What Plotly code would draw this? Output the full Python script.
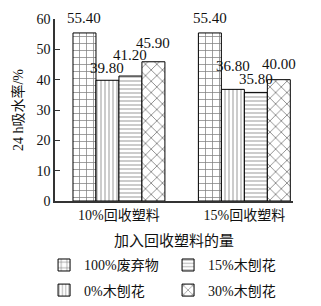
import plotly.graph_objects as go

categories = ["10%回收塑料", "15%回收塑料"]
series_names = ["100%废弃物", "0%木刨花", "15%木刨花", "30%木刨花"]
values_100 = [55.40, 55.40]
values_0 = [39.80, 36.80]
values_15 = [41.20, 35.80]
values_30 = [45.90, 40.00]
y_ticks = [0, 10, 20, 30, 40, 50, 60]

all_values = [values_100, values_0, values_15, values_30]
patterns = ["+", "|", "-", "x"]
pattern_sizes = [7, 4, 4, 8]
legend_ids = ["legend", "legend3", "legend2", "legend4"]
# vertical offset (px) of each value label above its bar, per series per group
label_shifts = [[15, 15], [12, 23], [21, 13], [19, 16]]

FONT = "Liberation Serif, Noto Sans CJK SC"
BARGAP = 0.267

fig = go.Figure()
xpos = list(range(len(categories)))
for name, vals, shp, psz, lg in zip(series_names, all_values, patterns, pattern_sizes, legend_ids):
    fig.add_trace(go.Bar(
        x=xpos, y=vals, name=name,
        marker=dict(color="white",
                    line=dict(color="black", width=1),
                    pattern=dict(shape=shp, size=psz, solidity=0.2,
                                 fgcolor="black", bgcolor="white")),
        legend=lg,
    ))

# value labels, placed at each bar's slot in the group
n = len(all_values)
bw = (1 - BARGAP) / n
for i, (vals, shifts) in enumerate(zip(all_values, label_shifts)):
    for g, (v, s) in enumerate(zip(vals, shifts)):
        fig.add_annotation(
            x=xpos[g] + (i - (n - 1) / 2) * bw, y=v,
            xref="x", yref="y", text=f"{v:.2f}", showarrow=False,
            yanchor="middle", xanchor="center", yshift=s,
            font=dict(family=FONT, size=15, color="#111"),
        )

def leg(x, y):
    return dict(orientation="h", xref="paper", x=x, xanchor="left",
                yref="container", y=y, yanchor="top",
                font=dict(family=FONT, size=14, color="#111"),
                bgcolor="rgba(0,0,0,0)")

fig.update_layout(
    width=321, height=306,
    margin=dict(l=55, r=28, t=16, b=105),
    paper_bgcolor="white", plot_bgcolor="white",
    barmode="group", bargap=BARGAP, bargroupgap=0,
    font=dict(family=FONT, size=14, color="#111"),
    showlegend=True,
    legend=leg(-0.046, 0.185),
    legend2=leg(0.475, 0.185),
    legend3=leg(-0.046, 0.103),
    legend4=leg(0.475, 0.103),
)
fig.update_xaxes(
    tickmode="array", tickvals=xpos, ticktext=categories,
    range=[-0.51, 1.388], automargin=False,
    showline=True, linecolor="#333", linewidth=1.5,
    ticks="", showgrid=False, zeroline=False,
    tickfont=dict(family=FONT, size=14, color="#111"),
    title=dict(text="加入回收塑料的量", standoff=20,
               font=dict(family=FONT, size=15, color="#111")),
)
fig.update_yaxes(
    range=[0, 60], tickmode="array", tickvals=y_ticks,
    showline=True, linecolor="#333", linewidth=1.5,
    ticks="inside", ticklen=5, tickcolor="#333",
    showgrid=False, zeroline=False,
    tickfont=dict(family=FONT, size=14, color="#111"),
    title=dict(text="24 h吸水率/%", standoff=10,
               font=dict(family=FONT, size=14, color="#111")),
)

fig.write_html("out.html")
